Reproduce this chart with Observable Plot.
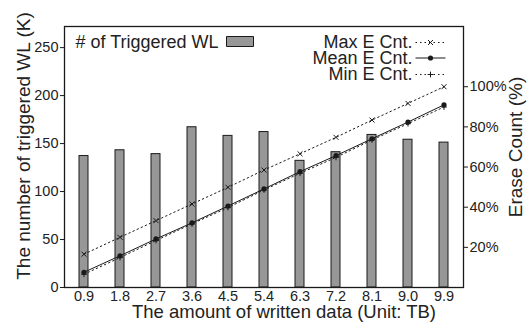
<!DOCTYPE html>
<html><head><meta charset="utf-8">
<script src="https://cdn.jsdelivr.net/npm/d3@7"></script>
<script src="https://cdn.jsdelivr.net/npm/@observablehq/plot@0.6"></script>
<style>body{margin:0;background:#fff}</style>
</head><body><div id="chart"></div>
<script>
// Data
const xLabels = ["0.9","1.8","2.7","3.6","4.5","5.4","6.3","7.2","8.1","9.0","9.9"];
const wlTriggered = [137,143,139,167,158,162,132,141,159,154,151];      // K (left axis)
const maxErase  = [16.6,25.0,33.3,41.6,49.9,58.5,66.6,74.8,83.4,91.7,100.0]; // % (right axis)
const meanErase = [7.6,15.8,24.2,32.2,40.6,49.1,57.7,65.7,74.1,82.4,91.0];
const minErase  = [6.6,14.9,23.4,31.7,39.8,48.6,56.9,64.8,73.5,81.6,89.9];
const leftTicks = [0,50,100,150,200,250];
const rightTicks = [20,40,60,80,100];

const Y_MAX = 272, E_MAX = 130, k = Y_MAX / E_MAX;

const bars = xLabels.map((x, i) => ({x, v: wlTriggered[i]}));
const ser = (arr) => xLabels.map((x, i) => ({x, v: arr[i] * k}));
const maxD = ser(maxErase), meanD = ser(meanErase), minD = ser(minErase);

const ink = "#1a1a1a";
const dash = "1.5,3";
const segSym = {draw(ctx) { ctx.moveTo(-15, 0); ctx.lineTo(15, 0); }};
const swatchSym = {draw(ctx) { ctx.rect(-13.5, -5, 27, 10); }};
const T = {lineAnchor: "middle"};

const chart = Plot.plot({
  width: 527, height: 322,
  marginLeft: 64, marginRight: 64, marginTop: 26, marginBottom: 35,
  style: {fontFamily: "'Liberation Sans', Arial, sans-serif", color: "#222", background: "#fff"},
  x: {type: "band", domain: xLabels, paddingInner: 0.75, paddingOuter: 0.375},
  y: {domain: [0, Y_MAX]},
  marks: [
    Plot.barY(bars, {x: "x", y: "v", fill: "#979797", stroke: ink, strokeWidth: 1}),
    Plot.line(maxD, {x: "x", y: "v", stroke: ink, strokeWidth: 1, strokeDasharray: dash}),
    Plot.line(minD, {x: "x", y: "v", stroke: ink, strokeWidth: 1, strokeDasharray: dash}),
    Plot.line(meanD, {x: "x", y: "v", stroke: ink, strokeWidth: 1}),
    Plot.dot(maxD, {x: "x", y: "v", symbol: "times", r: 2.4, stroke: ink, strokeWidth: 1}),
    Plot.dot(minD, {x: "x", y: "v", symbol: "plus", r: 2, stroke: ink, strokeWidth: 1}),
    Plot.dot(meanD, {x: "x", y: "v", r: 2.6, fill: ink, stroke: "none"}),
    Plot.frame({stroke: ink, strokeWidth: 1.3}),
    Plot.axisY(leftTicks, {anchor: "left", tickSize: 4, tickPadding: 2, fontSize: 14.5, label: null, stroke: ink}),
    Plot.axisY(rightTicks.map(v => v * k), {anchor: "right", tickSize: 4, tickPadding: 2, fontSize: 14.5, label: null,
      tickFormat: d => Math.round(d / k) + "%", stroke: ink}),
    Plot.axisX({tickSize: 0, tickPadding: 3, fontSize: 14.5, label: null}),
    // axis titles
    Plot.text(["The amount of written data (Unit: TB)"], {...T, frameAnchor: "bottom", textAnchor: "middle", dx: 20, dy: 25, fontSize: 18.5}),
    Plot.text(["The number of triggered WL (K)"], {...T, frameAnchor: "left", textAnchor: "middle", rotate: -90, dx: -41, dy: -11, fontSize: 19}),
    Plot.text(["Erase Count (%)"], {...T, frameAnchor: "right", textAnchor: "middle", rotate: -90, dx: 52, dy: -10, fontSize: 19}),
    // legend left
    Plot.text(["# of Triggered WL"], {...T, frameAnchor: "top-left", textAnchor: "start", dx: 11, dy: 16, fontSize: 18}),
    Plot.dot([0], {frameAnchor: "top-left", dx: 175.5, dy: 15, symbol: swatchSym, fill: "#979797", stroke: ink, strokeWidth: 1}),
    // legend right
    Plot.text(["Max E Cnt."], {...T, frameAnchor: "top-right", textAnchor: "end", dx: -51, dy: 16, fontSize: 18}),
    Plot.text(["Mean E Cnt."], {...T, frameAnchor: "top-right", textAnchor: "end", dx: -51, dy: 31.5, fontSize: 18}),
    Plot.text(["Min E Cnt."], {...T, frameAnchor: "top-right", textAnchor: "end", dx: -51, dy: 48, fontSize: 18}),
    Plot.dot([0], {frameAnchor: "top-right", dx: -33, dy: 16, symbol: segSym, fill: "none", stroke: ink, strokeWidth: 1, strokeDasharray: dash}),
    Plot.dot([0], {frameAnchor: "top-right", dx: -33, dy: 31.5, symbol: segSym, fill: "none", stroke: ink, strokeWidth: 1}),
    Plot.dot([0], {frameAnchor: "top-right", dx: -33, dy: 48, symbol: segSym, fill: "none", stroke: ink, strokeWidth: 1, strokeDasharray: dash}),
    Plot.dot([0], {frameAnchor: "top-right", dx: -33, dy: 16, symbol: "times", r: 2.4, stroke: ink, strokeWidth: 1}),
    Plot.dot([0], {frameAnchor: "top-right", dx: -33, dy: 31.5, r: 2.6, fill: ink, stroke: "none"}),
    Plot.dot([0], {frameAnchor: "top-right", dx: -33, dy: 48, symbol: "plus", r: 2, stroke: ink, strokeWidth: 1})
  ]
});
document.getElementById("chart").append(chart);
</script>
</body></html>
